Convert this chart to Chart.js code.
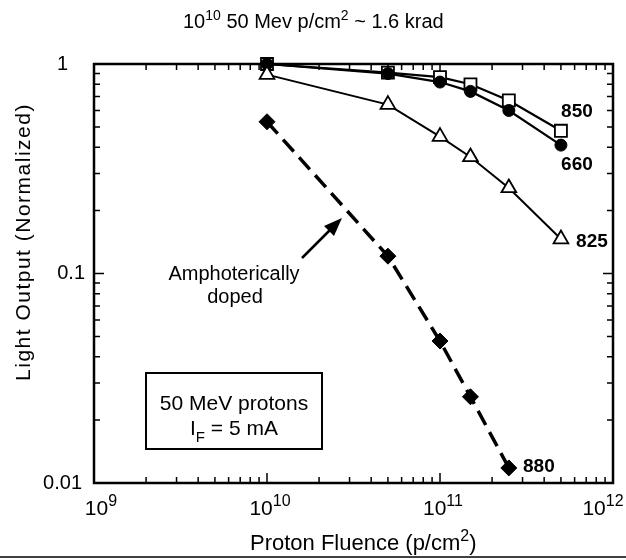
<!DOCTYPE html>
<html>
<head>
<meta charset="utf-8">
<script src="https://cdn.jsdelivr.net/npm/chart.js@4.4.1/dist/chart.umd.min.js"></script>
<style>
  html, body { margin: 0; padding: 0; background: #fff; }
  #wrap { width: 626px; height: 560px; position: relative; }
</style>
</head>
<body>
<div id="wrap"><canvas id="canvas" width="626" height="560"></canvas></div>
<script>
'use strict';

// proton fluence (p/cm2)
var fluence = [1e10, 5e10, 1e11, 1.5e11, 2.5e11, 5e11];
var fluence880 = [1e10, 5e10, 1e11, 1.5e11, 2.5e11];

// normalized light output per LED wavelength
var out850 = [1.0, 0.91, 0.865, 0.80, 0.67, 0.48];
var out660 = [1.0, 0.90, 0.82, 0.74, 0.60, 0.41];
var out825 = [0.89, 0.64, 0.45, 0.36, 0.256, 0.146];
var out880 = [0.53, 0.121, 0.0476, 0.0258, 0.0118];

var xDecades = [9, 10, 11, 12];
var yTicks = [1, 0.1, 0.01];
var yTickLabels = ['1', '0.1', '0.01'];

var FONT = '"Liberation Sans", Arial, sans-serif';

function pts(xs, ys) {
	var a = [];
	for (var i = 0; i < ys.length; i++) {
		a.push({ x: xs[i], y: ys[i] });
	}
	return a;
}

// text with a superscript part, returns the x where it ends
function supText(ctx, base, sup, x, y, size, supSize, align) {
	ctx.font = size + 'px ' + FONT;
	var wb = ctx.measureText(base).width;
	ctx.font = supSize + 'px ' + FONT;
	var ws = ctx.measureText(sup).width;
	var w = wb + ws;
	var x0 = align === 'center' ? x - w / 2 : (align === 'right' ? x - w : x);
	ctx.textAlign = 'left';
	ctx.textBaseline = 'alphabetic';
	ctx.font = size + 'px ' + FONT;
	ctx.fillText(base, x0, y);
	ctx.font = supSize + 'px ' + FONT;
	ctx.fillText(sup, x0 + wb, y - size * 0.42);
	return x0 + w;
}

var framePlugin = {
	id: 'frame',
	beforeDatasetsDraw: function(chart) {
		var ctx = chart.ctx;
		var a = chart.chartArea;
		var xs = chart.scales.x, ys = chart.scales.y;
		ctx.save();
		ctx.strokeStyle = '#000';
		ctx.lineWidth = 2.5;
		ctx.strokeRect(a.left, a.top, a.right - a.left, a.bottom - a.top);
		ctx.lineWidth = 1.5;
		ctx.beginPath();
		// x ticks, bottom and top, pointing inward
		for (var d = 9; d < 12; d++) {
			for (var m = 1; m <= 9; m++) {
				if (d === 9 && m === 1) continue;
				var px = xs.getPixelForValue(m * Math.pow(10, d));
				var len = m === 1 ? 10 : 6;
				ctx.moveTo(px, a.bottom); ctx.lineTo(px, a.bottom - len);
				ctx.moveTo(px, a.top); ctx.lineTo(px, a.top + len);
			}
		}
		// y ticks, left and right
		for (var e = -2; e < 0; e++) {
			for (var k = 1; k <= 9; k++) {
				if (e === -2 && k === 1) continue;
				var py = ys.getPixelForValue(k * Math.pow(10, e));
				var l2 = k === 1 ? 10 : 6;
				ctx.moveTo(a.left, py); ctx.lineTo(a.left + l2, py);
				ctx.moveTo(a.right, py); ctx.lineTo(a.right - l2, py);
			}
		}
		ctx.stroke();
		ctx.restore();
	},
	afterDraw: function(chart) {
		var ctx = chart.ctx;
		var a = chart.chartArea;
		var xs = chart.scales.x, ys = chart.scales.y;
		ctx.save();
		ctx.fillStyle = '#000';

		// title
		var tx = supText(ctx, '10', '10', 183, 28, 20, 14, 'left');
		tx = supText(ctx, ' 50 Mev p/cm', '2', tx, 28, 20, 14, 'left');
		ctx.font = '20px ' + FONT;
		ctx.fillText(' ~ 1.6 krad', tx, 28);

		// x tick labels
		for (var i = 0; i < xDecades.length; i++) {
			var px = xs.getPixelForValue(Math.pow(10, xDecades[i]));
			if (i === xDecades.length - 1) px -= 10;
			else if (i === 0) px += 7;
			else px += 3;
			supText(ctx, '10', String(xDecades[i]), px, 515, 21, 16, 'center');
		}
		// y tick labels
		ctx.font = '20px ' + FONT;
		ctx.textAlign = 'right';
		ctx.textBaseline = 'middle';
		for (var j = 0; j < yTicks.length; j++) {
			var off = j === 0 ? 26 : (j === 1 ? 9 : 12);
			ctx.fillText(yTickLabels[j], a.left - off, ys.getPixelForValue(yTicks[j]));
		}

		// x axis title
		var ex = supText(ctx, 'Proton Fluence (p/cm', '2', 250, 550, 22, 16, 'left');
		ctx.font = '22px ' + FONT;
		ctx.textAlign = 'left';
		ctx.fillText(')', ex, 550);

		// y axis title
		ctx.save();
		ctx.translate(30, 242);
		ctx.rotate(-Math.PI / 2);
		ctx.textAlign = 'center';
		ctx.textBaseline = 'alphabetic';
		ctx.font = '21px ' + FONT;
		ctx.letterSpacing = '1.5px';
		ctx.fillText('Light Output (Normalized)', 0, 0);
		ctx.restore();

		// series labels
		ctx.font = 'bold 19px ' + FONT;
		ctx.textAlign = 'center';
		ctx.textBaseline = 'middle';
		var lx = xs.getPixelForValue(fluence[5]);
		ctx.fillText('850', lx + 16, ys.getPixelForValue(out850[5]) - 19);
		ctx.fillText('660', lx + 16, ys.getPixelForValue(out660[5]) + 20);
		ctx.fillText('825', lx + 31, ys.getPixelForValue(out825[5]) + 3);
		ctx.fillText('880', xs.getPixelForValue(fluence880[4]) + 30, ys.getPixelForValue(out880[4]) - 1);

		// annotation
		ctx.textBaseline = 'alphabetic';
		ctx.font = '20px ' + FONT;
		ctx.fillText('Amphoterically', 234, 280);
		ctx.fillText('doped', 235, 303);
		ctx.lineWidth = 2.5;
		ctx.beginPath();
		ctx.moveTo(302, 258);
		ctx.lineTo(333, 227);
		ctx.stroke();
		ctx.beginPath();
		ctx.moveTo(342, 218);
		ctx.lineTo(324, 226);
		ctx.lineTo(334, 236);
		ctx.closePath();
		ctx.fill();

		// info box
		ctx.lineWidth = 2;
		ctx.strokeRect(146, 373, 176, 76);
		ctx.font = '21px ' + FONT;
		ctx.fillText('50 MeV protons', 234, 410);
		ctx.textAlign = 'left';
		var wi = ctx.measureText('I').width;
		var wr = ctx.measureText(' = 5 mA').width;
		ctx.font = '15px ' + FONT;
		var wf = ctx.measureText('F').width;
		var sx = 234 - (wi + wf + wr) / 2;
		ctx.font = '21px ' + FONT;
		ctx.fillText('I', sx, 435);
		ctx.fillText(' = 5 mA', sx + wi + wf, 435);
		ctx.font = '15px ' + FONT;
		ctx.fillText('F', sx + wi, 442);

		// bottom rule
		ctx.lineWidth = 1.5;
		ctx.beginPath();
		ctx.moveTo(0, 557);
		ctx.lineTo(626, 557);
		ctx.stroke();
		ctx.restore();
	}
};

var config = {
	type: 'line',
	data: {
		datasets: [{
			label: '880',
			data: pts(fluence880, out880),
			borderColor: '#000',
			backgroundColor: '#000',
			borderWidth: 3.5,
			borderDash: [16, 8],
			pointStyle: 'rectRot',
			pointRadius: 8,
			pointBorderWidth: 1,
			clip: false
		}, {
			label: '825',
			data: pts(fluence, out825),
			borderColor: '#000',
			backgroundColor: '#fff',
			borderWidth: 2,
			pointStyle: 'triangle',
			pointRadius: 8.5,
			pointBorderWidth: 1.8,
			clip: false
		}, {
			label: '660',
			data: pts(fluence, out660),
			borderColor: '#000',
			backgroundColor: '#000',
			borderWidth: 2.2,
			pointStyle: 'circle',
			pointRadius: 6,
			pointBorderWidth: 1,
			clip: false
		}, {
			label: '850',
			data: pts(fluence, out850),
			borderColor: '#000',
			backgroundColor: '#fff',
			borderWidth: 2.2,
			pointStyle: 'rect',
			pointRadius: 8.5,
			pointBorderWidth: 1.8,
			clip: false
		}]
	},
	options: {
		responsive: false,
		animation: false,
		layout: { padding: { left: 94, right: 13, top: 64, bottom: 77 } },
		plugins: { legend: { display: false }, tooltip: { enabled: false } },
		scales: {
			x: { type: 'logarithmic', min: 1e9, max: 1e12, display: false },
			y: { type: 'logarithmic', min: 0.01, max: 1, display: false }
		}
	},
	plugins: [framePlugin]
};

var ctx = document.getElementById('canvas').getContext('2d');
window.mychart = new Chart(ctx, config);
</script>
</body>
</html>
